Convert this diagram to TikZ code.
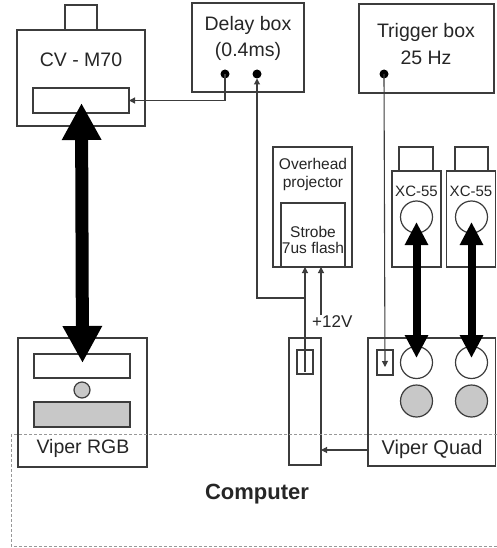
\documentclass[tikz,border=0pt]{standalone}
\usepackage{fontspec}
\setmainfont{Liberation Sans}
\usetikzlibrary{arrows.meta,calc}
\definecolor{ln}{HTML}{3C3C3C}
\definecolor{tx}{HTML}{262626}
\definecolor{gf}{HTML}{C8C8C8}
\definecolor{dl}{HTML}{989898}
\begin{document}
\begin{tikzpicture}[x=1pt,y=-1pt,
  box/.style={draw=ln, line width=1.2pt, fill=white, inner sep=0pt, outer sep=0pt, rectangle},
  gbox/.style={box, fill=gf},
  ring/.style={draw=ln, line width=1.2pt, fill=white, circle, inner sep=0pt, outer sep=0pt},
  gring/.style={ring, fill=gf},
  dotn/.style={circle, fill=black, inner sep=0pt, minimum size=9pt, outer sep=0pt},
  big/.style={font=\fontsize{19.5}{22}\selectfont, text=tx, inner sep=0pt},
  small/.style={font=\fontsize{15.5}{17}\selectfont, text=tx, inner sep=0pt},
  wire/.style={draw=ln, line width=1.1pt, -{Triangle[length=6pt,width=6pt]}},
  bigarrow/.style={draw=black, line width=13pt, {Triangle[length=37pt,width=37pt]}-{Triangle[length=37pt,width=37pt]}},
  camarrow/.style={draw=black, line width=8pt, {Triangle[length=23pt,width=22pt]}-{Triangle[length=23pt,width=22pt]}},
  comp/.style={draw=dl, line width=1pt, dash pattern=on 3pt off 2pt}
]
\useasboundingbox (0,0) rectangle (496,548);
\fill[white] (0,0) rectangle (496,548);

% CV-M70 camera
\node[box, minimum width=32pt, minimum height=25pt] (cvbump) at (81,17.5) {};
\node[box, minimum width=128pt, minimum height=96pt] (cv) at (81,78) {};
\node[big] (cvlbl) at (81,59.5) {CV - M70};
\node[box, minimum width=96pt, minimum height=25pt] (cvin) at (81,100.5) {};

% Delay box
\node[box, minimum width=112pt, minimum height=89pt] (delay) at (248,47.5) {};
\node[big] (dl1) at (248,25) {Delay box};
\node[big] (dl2) at (248,51) {(0.4ms)};
\node[dotn] (d1) at (225,74) {};
\node[dotn] (d2) at (257,74) {};

% Trigger box
\node[box, minimum width=135pt, minimum height=89pt] (trig) at (426.5,48.5) {};
\node[big] (tr1) at (426,32.5) {Trigger box};
\node[big] (tr2) at (426,57.5) {25 Hz};
\node[dotn] (d3) at (384,74) {};

% Overhead projector
\node[box, minimum width=79pt, minimum height=120pt] (ohp) at (312.5,207) {};
\node[small] (oh1) at (313,164) {Overhead};
\node[small] (oh2) at (313,183) {projector};
\node[box, minimum width=64pt, minimum height=64pt] (strobe) at (313,235) {};
\node[small] (st1) at (313,232) {Strobe};
\node[small] (st2) at (313,248) {7us flash};

% XC-55 cameras
\node[box, minimum width=34pt, minimum height=24pt] (c1bump) at (416,159) {};
\node[box, minimum width=49pt, minimum height=96pt] (c1) at (416.5,219) {};
\node[small, font=\fontsize{15}{17}\selectfont] (c1lbl) at (416.5,191) {XC-55};
\node[ring, minimum size=32pt] (lens1) at (416.5,217) {};
\node[box, minimum width=33pt, minimum height=24pt] (c2bump) at (471.5,159) {};
\node[box, minimum width=49pt, minimum height=96pt] (c2) at (471,219) {};
\node[small, font=\fontsize{15}{17}\selectfont] (c2lbl) at (471,191) {XC-55};
\node[ring, minimum size=32pt] (lens2) at (471.5,217) {};

% Viper RGB
\node[box, minimum width=129pt, minimum height=129pt] (rgb) at (82.5,402.5) {};
\node[box, minimum width=96pt, minimum height=24pt] (rgbin) at (82,366) {};
\node[gring, minimum size=16pt] (rgbc) at (82,390) {};
\node[gbox, minimum width=96pt, minimum height=25pt] (rgbg) at (82,414.5) {};
\node[big] (rgblbl) at (83,448) {Viper RGB};

% Card (strobe controller)
\node[box, minimum width=32pt, minimum height=127pt] (card) at (305,401.5) {};
\node[box, minimum width=16pt, minimum height=24pt] (cardin) at (305,362) {};

% Viper Quad
\node[box, minimum width=127.5pt, minimum height=128pt] (vq) at (431.75,402) {};
\node[box, minimum width=16pt, minimum height=25pt] (vqin) at (385,362.5) {};
\node[ring, minimum size=32pt] (vqc1) at (416.5,362.5) {};
\node[ring, minimum size=32pt] (vqc2) at (471.5,362.5) {};
\node[gring, minimum size=32pt] (vqg1) at (416.5,401) {};
\node[gring, minimum size=32pt] (vqg2) at (471.5,401) {};
\node[big, font=\fontsize{20}{22}\selectfont] (vqlbl) at (432,449) {Viper Quad};

% thin wires
\draw[wire] (d1.center) |- (cvin.east);
\coordinate (cardsig) at (305,372);
\coordinate (j) at (305,298);
\draw[wire] (cardsig) -- (strobe.south -| cardsig);
\draw[wire] (j) -| (d2.south);
\coordinate (v12) at (321,315);
\draw[wire] (v12) -- (strobe.south -| v12);
\node[small, font=\fontsize{17}{19}\selectfont, anchor=west] (v12lbl) at (312,322) {+12V};
\draw[wire] (d3.center) -- ($(vqin.center)+(0,4.5)$);
\coordinate (vqout) at (368,450);
\draw[wire] (vqout) -- (card.east |- vqout);

% thick double arrows
\draw[bigarrow] ($(cvin.center)+(0.5,2.5)$) -- ($(rgbin.center)+(0.5,-3)$);
\draw[camarrow] ($(lens1.center)+(0,5)$) -- ($(vqc1.center)+(0,-4.5)$);
\draw[camarrow] ($(lens2.center)+(0,5)$) -- ($(vqc2.center)+(0,-4.5)$);

% Computer
\draw[comp] (11,434) rectangle (497,546);
\node[font=\fontsize{22}{24}\selectfont\bfseries, text=tx, inner sep=0pt] (complbl) at (257,494) {Computer};
\end{tikzpicture}
\end{document}
